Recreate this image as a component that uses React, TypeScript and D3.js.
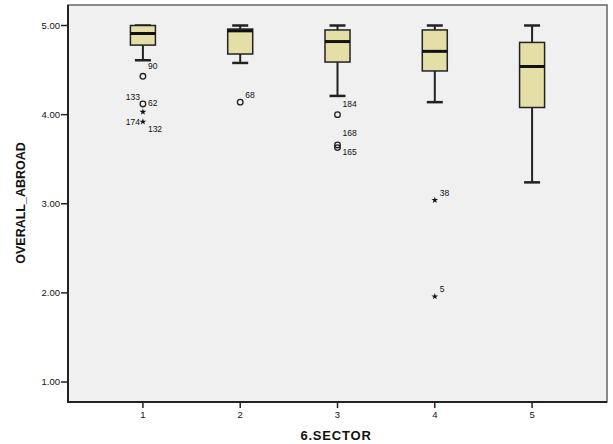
import React, { useEffect, useRef } from 'react';
import * as d3 from 'd3';

const sectors = ['1', '2', '3', '4', '5'];
const whiskerHigh = [5.0, 5.0, 5.0, 5.0, 5.0];
const q3 = [5.0, 4.96, 4.95, 4.95, 4.81];
const medians = [4.91, 4.94, 4.82, 4.71, 4.54];
const q1 = [4.78, 4.68, 4.59, 4.49, 4.08];
const whiskerLow = [4.61, 4.58, 4.21, 4.14, 3.24];

// outliers: sector, value, case id, kind ('o' = outlier circle, '*' = extreme)
const outlierSector = ['1', '1', '1', '1', '2', '3', '3', '3', '4', '4'];
const outlierValue = [4.43, 4.12, 4.03, 3.92, 4.14, 4.0, 3.66, 3.63, 3.04, 1.96];
const outlierId = ['90', '62', '', '132', '68', '184', '168', '165', '38', '5'];
const outlierKind = ['o', 'o', '*', '*', 'o', 'o', 'o', 'o', '*', '*'];
// extra case ids drawn to the left of a point
const leftIds = ['', '133', '', '174', '', '', '', '', '', ''];

const yTicks = [1, 2, 3, 4, 5];

const App = () => {
  const ref = useRef<SVGSVGElement>(null);

  useEffect(() => {
    if (!ref.current) return;
    const svg = d3.select(ref.current);
    svg.selectAll('*').remove();

    const left = 68,
      right = 607,
      top = 5,
      bottom = 402;
    const font = 'Arial, "Liberation Sans", sans-serif';

    const x = d3.scalePoint().domain(sectors).range([left, right]).padding(0.77);
    const y = d3.scaleLinear().domain([0.776, 5.23]).range([bottom, top]);

    // plot background
    svg
      .append('rect')
      .attr('x', left)
      .attr('y', top)
      .attr('width', right - left)
      .attr('height', bottom - top)
      .attr('fill', '#f0f0f0')
      .attr('stroke', '#666')
      .attr('stroke-width', 1.5);

    // axes lines
    svg
      .append('line')
      .attr('x1', left)
      .attr('x2', left)
      .attr('y1', top)
      .attr('y2', bottom + 1)
      .attr('stroke', '#222')
      .attr('stroke-width', 2);
    svg
      .append('line')
      .attr('x1', left - 1)
      .attr('x2', right)
      .attr('y1', bottom)
      .attr('y2', bottom)
      .attr('stroke', '#222')
      .attr('stroke-width', 2);

    // y ticks
    yTicks.forEach((t) => {
      svg
        .append('line')
        .attr('x1', left - 7)
        .attr('x2', left)
        .attr('y1', y(t))
        .attr('y2', y(t))
        .attr('stroke', '#222')
        .attr('stroke-width', 1.5);
      svg
        .append('text')
        .attr('x', left - 8)
        .attr('y', y(t))
        .attr('dy', '0.35em')
        .attr('text-anchor', 'end')
        .attr('font-family', font)
        .attr('font-size', 9.5)
        .attr('fill', '#111')
        .text(d3.format('.2f')(t));
    });

    // x ticks
    sectors.forEach((s) => {
      svg
        .append('line')
        .attr('x1', x(s))
        .attr('x2', x(s))
        .attr('y1', bottom)
        .attr('y2', bottom + 6)
        .attr('stroke', '#222')
        .attr('stroke-width', 1.5);
      svg
        .append('text')
        .attr('x', x(s))
        .attr('y', bottom + 16)
        .attr('text-anchor', 'middle')
        .attr('font-family', font)
        .attr('font-size', 9.5)
        .attr('fill', '#111')
        .text(s);
    });

    // axis titles
    svg
      .append('text')
      .attr('transform', 'translate(25,' + 203 + ')rotate(-90)')
      .attr('text-anchor', 'middle')
      .attr('font-family', font)
      .attr('font-size', 12.5)
      .attr('font-weight', 'bold')
      .attr('fill', '#111')
      .text('OVERALL_ABROAD');
    svg
      .append('text')
      .attr('x', 336)
      .attr('y', 440)
      .attr('text-anchor', 'middle')
      .attr('font-family', font)
      .attr('font-size', 13)
      .attr('font-weight', 'bold')
      .attr('letter-spacing', 0.8)
      .attr('fill', '#111')
      .text('6.SECTOR');

    // boxes
    const half = 12.5;
    const cap = 8;
    sectors.forEach((s, i) => {
      const cx = x(s) as number;
      // whiskers
      svg
        .append('line')
        .attr('x1', cx)
        .attr('x2', cx)
        .attr('y1', y(whiskerHigh[i]))
        .attr('y2', y(q3[i]))
        .attr('stroke', '#222')
        .attr('stroke-width', 2);
      svg
        .append('line')
        .attr('x1', cx)
        .attr('x2', cx)
        .attr('y1', y(q1[i]))
        .attr('y2', y(whiskerLow[i]))
        .attr('stroke', '#222')
        .attr('stroke-width', 2);
      [whiskerHigh[i], whiskerLow[i]].forEach((v) => {
        svg
          .append('line')
          .attr('x1', cx - cap)
          .attr('x2', cx + cap)
          .attr('y1', y(v))
          .attr('y2', y(v))
          .attr('stroke', '#222')
          .attr('stroke-width', 2.5);
      });
      svg
        .append('rect')
        .attr('x', cx - half)
        .attr('y', y(q3[i]))
        .attr('width', half * 2)
        .attr('height', y(q1[i]) - y(q3[i]))
        .attr('fill', '#e4dfa6')
        .attr('stroke', '#222')
        .attr('stroke-width', 1.5);
      svg
        .append('line')
        .attr('x1', cx - half)
        .attr('x2', cx + half)
        .attr('y1', y(medians[i]))
        .attr('y2', y(medians[i]))
        .attr('stroke', '#111')
        .attr('stroke-width', 3);
    });

    // outliers
    const star = d3.symbol().type(d3.symbolStar).size(14);
    outlierValue.forEach((v, i) => {
      const cx = x(outlierSector[i]) as number;
      const cy = y(v);
      if (outlierKind[i] === 'o') {
        svg
          .append('circle')
          .attr('cx', cx)
          .attr('cy', cy)
          .attr('r', 2.8)
          .attr('fill', 'none')
          .attr('stroke', '#222')
          .attr('stroke-width', 1.3);
      } else {
        svg
          .append('path')
          .attr('transform', 'translate(' + [cx, cy] + ')')
          .attr('d', star)
          .attr('fill', '#111');
      }
      // label next to the point; overlapping pair in sector 3 gets split up/down
      let dy = -4;
      if (outlierId[i] === '168') dy = -9;
      if (outlierId[i] === '165') dy = 7;
      if (outlierId[i] === '184') dy = -8;
      if (outlierId[i] === '62') dy = 2;
      if (outlierId[i] === '132') dy = 10;
      if (outlierId[i] === '90') dy = -7;
      if (outlierId[i]) {
        svg
          .append('text')
          .attr('x', cx + 5)
          .attr('y', cy + dy)
          .attr('font-family', font)
          .attr('font-size', 8.5)
          .attr('fill', '#111')
          .text(outlierId[i]);
      }
      if (leftIds[i]) {
        svg
          .append('text')
          .attr('x', cx - 3)
          .attr('y', cy + (leftIds[i] === '133' ? -4 : 3))
          .attr('text-anchor', 'end')
          .attr('font-family', font)
          .attr('font-size', 8.5)
          .attr('fill', '#111')
          .text(leftIds[i]);
      }
    });
  }, []);

  return (
    <svg
      ref={ref}
      width={613}
      height={444}
      style={{ position: 'absolute', left: 0, top: 0, background: '#fff' }}
    />
  );
};

export default App;
